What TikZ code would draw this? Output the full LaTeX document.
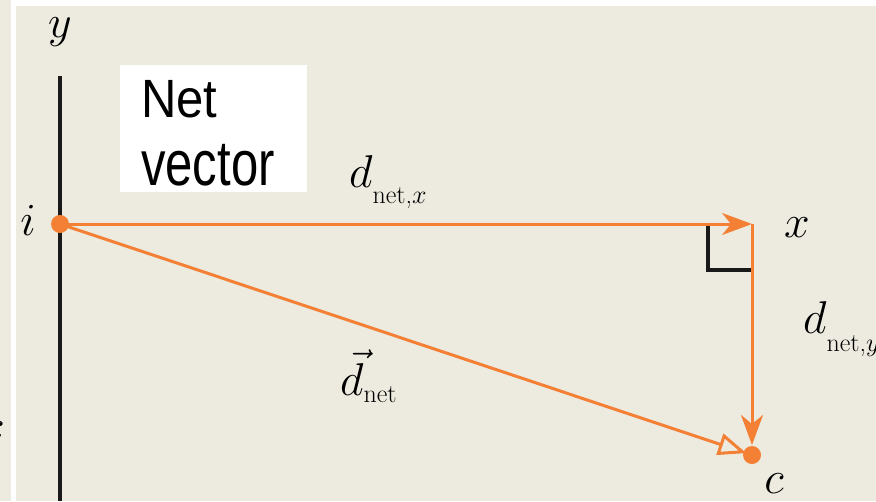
\RequirePackage{fix-cm}
\documentclass[tikz,border=0pt]{standalone}
\usepackage{fontspec}
\usepackage{graphicx}
\usetikzlibrary{arrows.meta}
\newfontfamily\boxfont{Liberation Sans}
\definecolor{panelbg}{RGB}{237,235,224}
\definecolor{vecorange}{RGB}{243,128,52}
\newcommand{\dlabel}[3]{#1\raisebox{#3}{\fontsize{26}{28}\selectfont net#2}}

\tikzset{
  lbl/.style={font=\fontsize{46}{50}\selectfont, inner sep=0pt},
  vecline/.style={vecorange, line width=3pt},
  axisline/.style={black!90, line width=3.5pt},
  headfull/.style={-{Stealth[length=30pt,width=22pt,inset=9pt]}},
  headopen/.style={-{Triangle[open,length=28pt,width=22pt]}},
}

\begin{document}
\begin{tikzpicture}[x=1pt,y=-1pt]
\useasboundingbox (0,0) rectangle (876,501);
\fill[white] (0,0) rectangle (876,501);
\fill[panelbg] (0,0) rectangle (11,501);
\fill[panelbg] (16,6) rectangle (876,501);

% y axis
\coordinate (ytop) at (60,76);
\coordinate (ybot) at (60,501);
\draw[axisline] (ytop) -- (ybot);

% points
\coordinate (i) at (60,224);
\coordinate (xc) at (752,224);
\coordinate (c) at (752,455);

% right angle mark
\draw[axisline] (708,224) -- (708,270) -- (752,270);

% vectors
\draw[vecline, headopen, shorten >=6pt] (i) -- (c);
\draw[vecline, headfull] (i) -- (xc);
\draw[vecline, headfull, shorten >=10pt] (xc) -- (c);
\fill[vecorange] (i) circle (9pt);
\fill[vecorange] (c) circle (9pt);

% box
\node[fill=white, minimum width=187pt, minimum height=127pt, inner sep=0pt, anchor=north west] (netbox) at (120,65) {};
\node[font=\boxfont\fontsize{49}{50}\selectfont, inner sep=0pt, anchor=base west] (net) at (141,117) {\scalebox{1}[1.1]{Net}};
\node[font=\boxfont\fontsize{49}{50}\selectfont, inner sep=0pt, anchor=base west] (vec) at (141,185) {\scalebox{1}[1.3]{vector}};

% labels
\node[lbl] (ylbl) at (60,32) {$y$};
\node[lbl] (ilbl) at (28,220) {$i$};
\node[lbl] (xlbl) at (797,228) {$x$};
\node[lbl] (clbl) at (774,484) {$c$};
\node[lbl, anchor=east] (xleft) at (5,432) {$x$};
\node[lbl, anchor=base west] (dx) at (349,187) {\dlabel{$d$}{,$x$}{-16pt}};
\node[lbl, anchor=base west] (dy) at (803,333) {\dlabel{$d$}{,$y$}{-18pt}};
\node[lbl, anchor=base west] (dv) at (340,395) {\dlabel{$\vec{d}$}{}{-7pt}};
\end{tikzpicture}
\end{document}
